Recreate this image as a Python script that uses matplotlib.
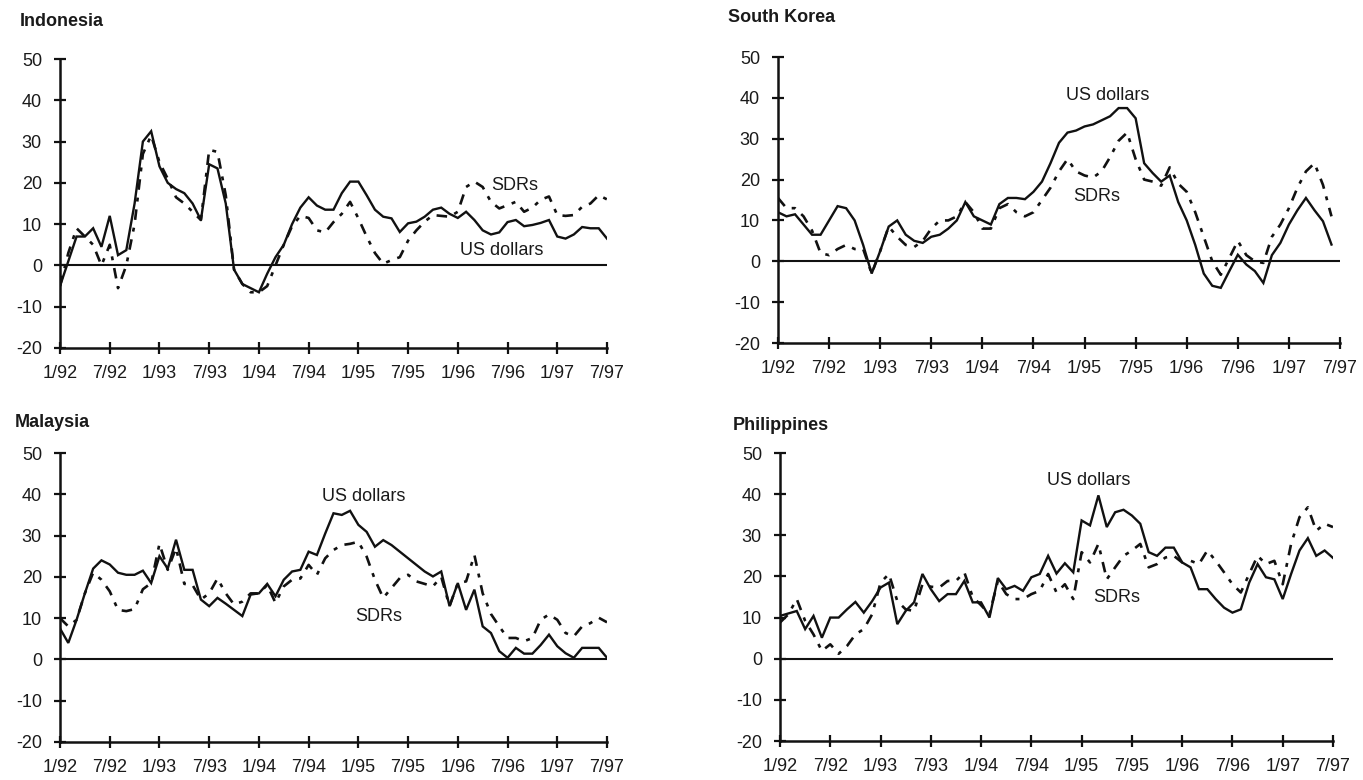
import matplotlib.pyplot as plt
import numpy as np

plt.rcParams['font.family'] = ['Liberation Sans', 'DejaVu Sans']
plt.rcParams['axes.unicode_minus'] = False

# months since 1/92
tick_labels = ['1/92', '7/92', '1/93', '7/93', '1/94', '7/94',
               '1/95', '7/95', '1/96', '7/96', '1/97', '7/97']

indonesia_usd = [-5, 1, 7, 7, 9, 4.5, 12, 2.5, 3.7, 15, 30, 32.5, 24, 20, 18.5, 17.5,
                 15, 11, 24.5, 23.5, 15, -1, -4.5, -5.5, -6.5, -2, 2, 5, 10, 14, 16.5,
                 14.5, 13.5, 13.5, 17.5, 20.3, 20.3, 17, 13.5, 11.8, 11.4, 8.1, 10.2,
                 10.6, 11.8, 13.5, 14, 12.5, 11.5, 13, 11, 8.5, 7.5, 8, 10.5, 11, 9.5,
                 9.8, 10.3, 11, 7, 6.5, 7.5, 9.3, 9, 9, 6.5]
indonesia_sdr = [-5, 3, 9, 7, 5, 0, 5, -5.5, 0, 10, 27, 31.5, 25, 21, 16.5, 15, 13,
                 11, 28, 27.5, 17, -1, -4.5, -6.5, -6.5, -5, 0, 5, 9.5, 12, 11.5, 8.5,
                 8, 10.5, 12.5, 15.4, 11.4, 7, 3, 0.4, 1.3, 2, 6, 8.5, 10.6, 12.2, 12,
                 11.8, 13, 19, 20.3, 19, 15.4, 13.8, 14.6, 15.4, 13, 14, 15.9, 16.7,
                 12.2, 12, 12.2, 14.2, 15, 17, 16]

korea_usd = [12, 11, 11.5, 9, 6.5, 6.5, 10, 13.5, 13, 10, 4, -3, 2.5, 8.5, 10, 6.5,
             5, 4.5, 6, 6.5, 8, 10, 14.5, 11, 10, 9, 14, 15.5, 15.5, 15.2, 17, 19.5,
             24, 29, 31.5, 32, 33, 33.5, 34.5, 35.5, 37.5, 37.5, 35, 24, 21.6, 19.5,
             21, 14.5, 10, 4, -3, -6, -6.5, -2.4, 1.6, -0.8, -2.4, -5.3, 1.5, 4.5, 9,
             12.5, 15.5, 12.5, 9.8, 4.1]
korea_sdr = [15.5, 13, 13, 11, 7.5, 2, 1.5, 3, 4, 3, 3, -3, 2.5, 8.5, 6, 4, 3.5, 5,
             8, 10, 10, 11, 14.5, 12, 8, 8, 13, 14, 12, 11, 12, 15, 18, 22, 25, 22,
             21, 20.5, 22, 25.5, 29.5, 31.5, 25, 20, 19.5, 18.5, 23, 19, 17, 12, 6,
             0, -3.3, 0.8, 5, 1.5, 0, -0.4, 6, 9, 13, 18, 22, 24, 18.7, 11]

malaysia_usd = [7.5, 4, 9.6, 16, 22, 24, 23, 21, 20.5, 20.5, 21.5, 18.5, 25, 22, 29,
                21.7, 21.7, 14.5, 12.9, 14.9, 13.5, 12, 10.5, 15.7, 16, 18.3, 15.3,
                19.3, 21.3, 21.7, 26.1, 25.3, 30.5, 35.4, 35, 36, 32.6, 30.9, 27.3,
                28.9, 27.7, 26.1, 24.5, 22.9, 21.3, 20.1, 21.3, 12.9, 18.5, 12, 16.9,
                8, 6.4, 2, 0.4, 2.8, 1.4, 1.4, 3.5, 6, 3.2, 1.5, 0.4, 2.8, 2.8, 2.8, 0.4]
malaysia_sdr = [10, 8, 9.6, 16, 21, 19.3, 16.5, 12, 11.7, 12.2, 17, 18.5, 28, 21.7,
                27, 18.3, 18, 14.5, 16, 19.6, 16, 13.3, 14, 16, 16, 18, 13.7, 17.7,
                19.3, 19.6, 22.9, 20.5, 24.5, 26.5, 27.7, 28, 28.5, 24.9, 19.3, 14.9,
                17.3, 19.7, 20.5, 18.9, 18.3, 17.7, 20, 12.9, 18.5, 18.9, 25.3, 16,
                11, 8, 5.2, 5.2, 4.4, 5.2, 9.6, 10.9, 9.6, 6.4, 5.6, 8, 8.8, 10.1, 9]

philippines_usd = [10.4, 11, 11.6, 7.2, 10.4, 5.1, 10, 10, 12, 13.8, 11.2, 14, 17.3,
                   18.5, 8.4, 11.6, 13.7, 20.6, 16.9, 14, 15.7, 15.7, 18.9, 13.7, 13.7,
                   10, 19.6, 16.9, 17.7, 16.5, 19.8, 20.6, 25, 20.7, 23.2, 21, 33.6,
                   32.4, 39.7, 32, 35.6, 36.2, 34.8, 32.8, 25.9, 25, 27, 27, 23.4, 22.2,
                   16.9, 16.9, 14.5, 12.4, 11.2, 12, 18.5, 23, 19.8, 19.3, 14.5, 20.6,
                   26.3, 29.3, 25, 26.3, 24.5]
philippines_sdr = [8.8, 10.8, 14.5, 9.2, 5.9, 1.9, 3.5, 1.2, 3.1, 5.9, 7.2, 10.8, 18.5,
                   20.6, 14, 12, 11.6, 18.1, 17.5, 17.3, 18.9, 18.9, 21, 15, 13, 10.8,
                   18.9, 15.7, 14.5, 14.5, 15.7, 16.5, 20.6, 16.1, 18.1, 14.5, 25.9,
                   23.4, 27.9, 19.3, 22.2, 25, 26.3, 27.9, 22.2, 23, 24.6, 25, 23.4,
                   23.8, 23, 26.3, 23.8, 21, 18.1, 16.1, 20.6, 25, 23, 23.8, 18.1, 27.9,
                   34.4, 36.8, 31.1, 32.8, 32]

W, H = 1363, 780
fig = plt.figure(figsize=(W / 100, H / 100), dpi=100)
ink = '#111111'


def panel(box, title, title_xy, usd, sdr, usd_xy, sdr_xy):
    # box in pixels: left, right, top, bottom
    l, r, t, b = box
    ax = fig.add_axes([l / W, 1 - b / H, (r - l) / W, (b - t) / H])
    ax.plot(range(len(usd)), usd, color=ink, lw=1.7, solid_joinstyle='miter')
    ax.plot(range(len(sdr)), sdr, color=ink, lw=1.9, dashes=(4, 3, 1.5, 3))
    ax.axhline(0, color=ink, lw=1.5)
    ax.set_xlim(0, 66)
    ax.set_ylim(-20, 50)
    ax.set_xticks(range(0, 67, 6))
    ax.set_xticklabels(tick_labels)
    ax.set_yticks(range(-20, 51, 10))
    for s in ['top', 'right']:
        ax.spines[s].set_visible(False)
    for s in ['left', 'bottom']:
        ax.spines[s].set_linewidth(1.8)
        ax.spines[s].set_color(ink)
    ax.tick_params(direction='inout', length=8, width=1.6, colors=ink,
                   labelsize=13, labelcolor='#1a1a1a')
    ax.tick_params(axis='y', pad=9)
    ax.tick_params(axis='x', pad=8)
    ax.text(usd_xy[0], usd_xy[1], 'US dollars', fontsize=13, ha='center',
            va='center', color='#1a1a1a')
    ax.text(sdr_xy[0], sdr_xy[1], 'SDRs', fontsize=13, ha='center',
            va='center', color='#1a1a1a')
    fig.text(title_xy[0] / W, 1 - title_xy[1] / H, title, fontsize=13,
             fontweight='bold', ha='left', va='center', color='#1a1a1a')
    return ax


panel((60, 607, 59, 348), 'Indonesia', (20, 21), indonesia_usd, indonesia_sdr,
      (53.3, 3.6), (54.9, 19.4))
panel((778, 1340, 57, 343), 'South Korea', (728, 17), korea_usd, korea_sdr,
      (38.7, 40.6), (37.4, 15.9))
panel((60, 607, 453, 742), 'Malaysia', (15, 423), malaysia_usd, malaysia_sdr,
      (36.7, 39.4), (38.4, 10.4))
panel((780, 1333, 453, 741), 'Philippines', (733, 426), philippines_usd,
      philippines_sdr, (36.8, 43.4), (40.2, 14.9))

plt.savefig('out.png', dpi=100)
